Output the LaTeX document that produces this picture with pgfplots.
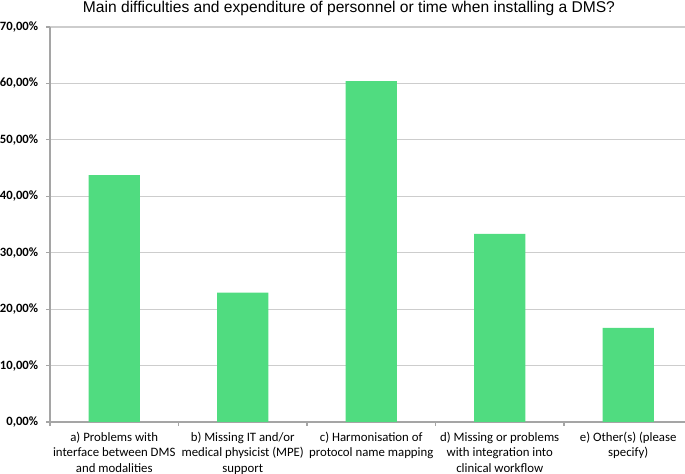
\documentclass[border=0pt]{standalone}
\usepackage{pgfplots}
\pgfplotsset{compat=1.18}
\usepackage{fontspec}
\setmainfont{Carlito}
\newfontfamily\titlefont{Liberation Sans}
\definecolor{barg}{RGB}{80,220,128}
\definecolor{gridg}{RGB}{205,205,205}
\definecolor{axg}{RGB}{165,165,165}
\begin{document}
\begin{tikzpicture}[x=1pt,y=1pt]
\useasboundingbox (-37.5,-39) rectangle (476.25,316.5);
\begin{axis}[
  at={(0,0)}, anchor=south west,
  scale only axis, width=476.25pt, height=296.25pt,
  xmin=-0.5, xmax=4.442, ymin=0, ymax=70,
  ytick={0,10,...,70},
  yticklabel={\pgfmathprintnumber[fixed,fixed zerofill,precision=2,use comma,assume math mode=true]{\tick}\%},
  yticklabel style={font=\fontsize{9.5}{11}\selectfont\bfseries, xshift=-2.4pt},
  ymajorgrids, grid style={gridg, line width=0.8pt},
  axis x line*=bottom, axis y line*=left,
  axis line style={axg, line width=0.8pt},
  tick align=outside,
  major tick length=3pt,
  ytick style={axg, line width=0.8pt},
  xtick={0,1,2,3,4},
  major x tick style={draw=none},
  minor xtick={-0.5,0.5,1.5,2.5,3.5},
  minor x tick style={axg, line width=0.8pt},
  minor tick length=3pt,
  xticklabels={{a) Problems with\\interface between DMS\\and modalities},
               {b) Missing IT and/or\\medical physicist (MPE)\\support},
               {c) Harmonisation of\\protocol name mapping},
               {d) Missing or problems\\with integration into\\clinical workflow},
               {e) Other(s) (please\\specify)}},
  xticklabel style={font=\fontsize{9.6}{11.6}\selectfont, align=center, anchor=north, yshift=-1pt},
  clip=false,
]
\addplot[ybar, bar width=0.4, fill=barg, draw=none] coordinates {
  (0,43.75) (1,22.92) (2,60.42) (3,33.33) (4,16.67)};
\end{axis}
\node[font=\titlefont\fontsize{11.5}{14}\selectfont, anchor=base, inner sep=0pt] at (224.25,306.75) {\resizebox{399pt}{!}{Main difficulties and expenditure of personnel or time when installing a DMS?}};
\end{tikzpicture}
\end{document}
